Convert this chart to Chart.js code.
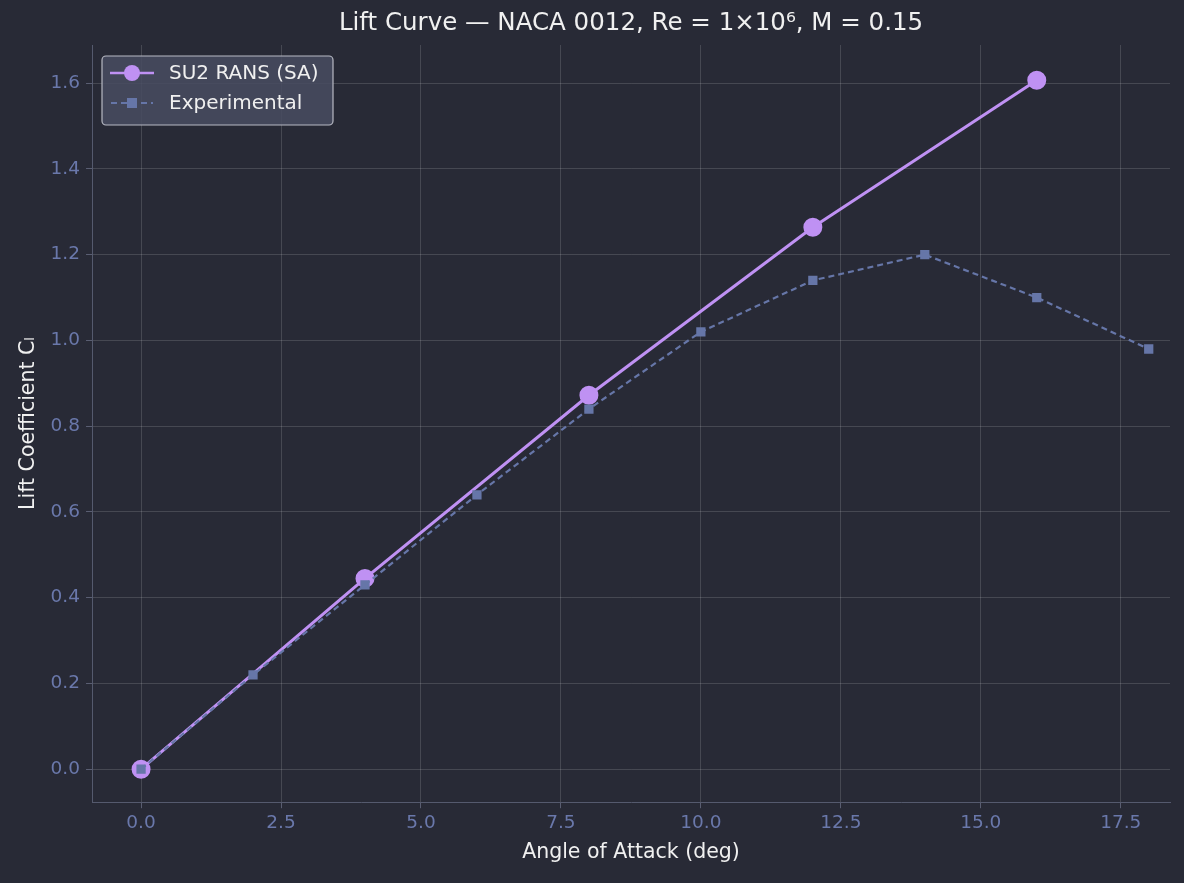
<!DOCTYPE html>
<html><head><meta charset="utf-8">
<script src="https://cdn.jsdelivr.net/npm/chart.js@4"></script>
<style>html,body{margin:0;background:#282a36}#wrap{width:1184px;height:883px}</style>
</head><body><div id="wrap"><canvas id="c"></canvas></div>
<script>
// data
const aoaSU2=[0,4,8,12,16];
const clSU2=[0,0.445,0.872,1.264,1.607];
const aoaExp=[0,2,4,6,8,10,12,14,16,18];
const clExp=[0,0.22,0.43,0.64,0.84,1.02,1.14,1.20,1.10,0.98];
const xTicks=[0,2.5,5,7.5,10,12.5,15,17.5];
const yTicks=[0,0.2,0.4,0.6,0.8,1.0,1.2,1.4,1.6];
const titleText='Lift Curve — NACA 0012, Re = 1×10⁶, M = 0.15';

const FONT="'DejaVu Sans', sans-serif";
Chart.defaults.font.family=FONT;
const tickCol='#6a78ab', txt='#f0f0f0';
const purple='#bf91f3', slate='#6676a8';

const legendPlugin={id:'lg',afterDraw(ch){
  const c=ch.ctx,a=ch.chartArea,x=102,y=56,w=231,h=69;
  c.save();
  c.fillStyle=txt;c.font="24.5px "+FONT;c.textAlign='center';c.textBaseline='middle';
  c.fillText(titleText,(a.left+a.right)/2,24);
  c.textAlign='left';
  c.fillStyle='rgba(72,76,96,0.85)';c.strokeStyle='#b8bac4';c.lineWidth=1.2;
  c.beginPath();c.roundRect(x,y,w,h,4);c.fill();c.stroke();
  c.strokeStyle=purple;c.lineWidth=2.5;c.beginPath();c.moveTo(110,73);c.lineTo(154,73);c.stroke();
  c.fillStyle=purple;c.beginPath();c.arc(132,73,8,0,Math.PI*2);c.fill();
  c.strokeStyle=slate;c.lineWidth=2;c.setLineDash([6,4]);c.beginPath();c.moveTo(111,103);c.lineTo(153,103);c.stroke();c.setLineDash([]);
  c.fillStyle=slate;c.fillRect(127,98,10,10);
  c.fillStyle=txt;c.font="20px "+FONT;c.textBaseline='middle';
  c.fillText('SU2 RANS (SA)',169,74);c.fillText('Experimental',169,104);
  c.restore();
}};

new Chart(document.getElementById('c'),{
  type:'scatter',
  data:{datasets:[
    {label:'SU2 RANS (SA)',data:aoaSU2.map((a,i)=>({x:a,y:clSU2[i]})),showLine:true,borderColor:purple,backgroundColor:purple,borderWidth:3,pointRadius:8,pointHoverRadius:8,order:2},
    {label:'Experimental',data:aoaExp.map((a,i)=>({x:a,y:clExp[i]})),showLine:true,borderColor:slate,backgroundColor:slate,borderWidth:2.2,borderDash:[6,4],pointStyle:'rect',pointRadius:5,pointHoverRadius:5,order:1}
  ]},
  options:{responsive:true,maintainAspectRatio:false,animation:false,
    layout:{padding:{top:45,right:14,left:12,bottom:14}},
    plugins:{legend:{display:false},tooltip:{enabled:false},title:{display:false}},
    scales:{
      x:{type:'linear',min:-0.876,max:18.38,
        afterBuildTicks:a=>{a.ticks=xTicks.map(v=>({value:v}))},
        ticks:{color:tickCol,font:{family:FONT,size:18.5},callback:v=>v.toFixed(1),padding:4},
        grid:{color:'rgba(255,255,255,0.14)',tickColor:'#5a5e72',tickLength:6},border:{color:'#555a6e'},
        title:{display:true,text:'Angle of Attack (deg)',color:txt,font:{family:FONT,size:20.5},padding:{top:2}}},
      y:{type:'linear',min:-0.077,max:1.689,
        afterBuildTicks:a=>{a.ticks=yTicks.map(v=>({value:v}))},
        ticks:{color:tickCol,font:{family:FONT,size:18.5},callback:v=>v.toFixed(1),padding:6},
        grid:{color:'rgba(255,255,255,0.14)',tickColor:'#5a5e72',tickLength:6},border:{color:'#555a6e'},
        title:{display:true,text:'Lift Coefficient Cₗ',color:txt,font:{family:FONT,size:20.5},padding:{bottom:4}}}
    }},
  plugins:[legendPlugin]
});
</script></body></html>
